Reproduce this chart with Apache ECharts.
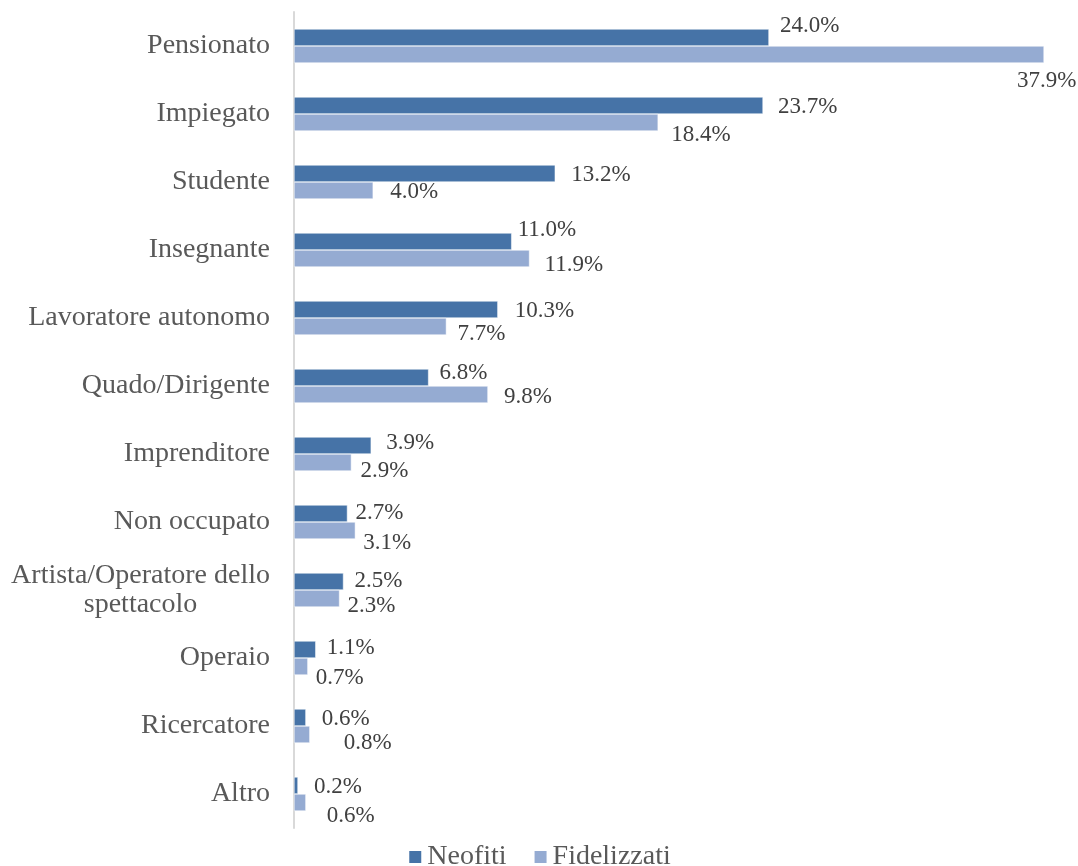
<!DOCTYPE html>
<html>
<head>
<meta charset="utf-8">
<title>Professione</title>
<script src="https://cdn.jsdelivr.net/npm/echarts@6/dist/echarts.min.js"></script>
<style>
  html, body { margin: 0; padding: 0; background: #ffffff; }
  #chart { width: 1078px; height: 866px; }
</style>
</head>
<body>
<div id="chart"></div>
<script>
// Occupations, top to bottom
const categories = [
  'Pensionato', 'Impiegato', 'Studente', 'Insegnante', 'Lavoratore autonomo',
  'Quado/Dirigente', 'Imprenditore', 'Non occupato', 'Artista/Operatore dello\nspettacolo',
  'Operaio', 'Ricercatore', 'Altro'
];

// Share of respondents (%)
const neofiti     = [24.0, 23.7, 13.2, 11.0, 10.3, 6.8, 3.9, 2.7, 2.5, 1.1, 0.6, 0.2];
const fidelizzati = [37.9, 18.4, 4.0, 11.9, 7.7, 9.8, 2.9, 3.1, 2.3, 0.7, 0.8, 0.6];

// Hand-placed value labels: [x, y] nudge from the bar end
const neofitiLabelNudge = [
  [11, -12], [15, 1], [16, 1], [6, -12], [17, 1], [11, -5],
  [15, -3], [8, -1], [11, -1], [11, -2], [16, 1], [16, 1]
];
const fidelizzatiLabelNudge = [
  [-27, 26], [13, 12], [17, 1], [15, 6], [11, 7], [16, 2],
  [9, 8], [8, 12], [8, 7], [8, 11], [34, 8], [21, 13]
];

const FONT = "'Liberation Serif', 'Times New Roman', serif";

function seriesData(values, nudges) {
  return values.map((v, i) => ({
    value: v,
    label: { offset: nudges[i] }
  }));
}

const valueLabel = {
  show: true,
  position: 'right',
  distance: 0,
  align: 'left',
  verticalAlign: 'middle',
  fontFamily: FONT,
  fontSize: 23,
  color: '#404040',
  formatter: p => p.value.toFixed(1) + '%'
};

const chart = echarts.init(document.getElementById('chart'), null, { renderer: 'canvas' });

chart.setOption({
  animation: false,
  backgroundColor: '#ffffff',
  textStyle: { fontFamily: FONT },
  grid: { left: 294, right: 32, top: 12, bottom: 38, containLabel: false },
  legend: {
    bottom: -10,
    left: 'center',
    itemWidth: 14,
    itemHeight: 14,
    itemGap: 26,
    icon: 'rect',
    textStyle: { fontFamily: FONT, fontSize: 28, color: '#595959' },
    data: ['Neofiti', 'Fidelizzati']
  },
  xAxis: {
    type: 'value',
    min: 0,
    max: 38,
    show: false
  },
  yAxis: {
    type: 'category',
    inverse: true,
    data: categories,
    axisLine: { show: true, lineStyle: { color: '#d9d9d9', width: 2 } },
    axisTick: { show: false },
    axisLabel: {
      margin: 24,
      fontFamily: FONT,
      fontSize: 28,
      color: '#595959',
      lineHeight: 28,
      formatter: v => v.indexOf('\n') >= 0
        ? v.split('\n').map(s => '{c|' + s + '}').join('\n')
        : v,
      rich: {
        c: { align: 'center', fontFamily: FONT, fontSize: 28, color: '#595959', lineHeight: 29 }
      }
    }
  },
  series: [
    {
      name: 'Neofiti',
      type: 'bar',
      barWidth: 17,
      barGap: '0%',
      itemStyle: { color: '#4673a7', borderColor: '#ffffff', borderWidth: 0.5 },
      label: valueLabel,
      data: seriesData(neofiti, neofitiLabelNudge)
    },
    {
      name: 'Fidelizzati',
      type: 'bar',
      barWidth: 17,
      barGap: '0%',
      itemStyle: { color: '#95abd2', borderColor: '#ffffff', borderWidth: 0.5 },
      label: valueLabel,
      data: seriesData(fidelizzati, fidelizzatiLabelNudge)
    }
  ]
});
</script>
</body>
</html>
